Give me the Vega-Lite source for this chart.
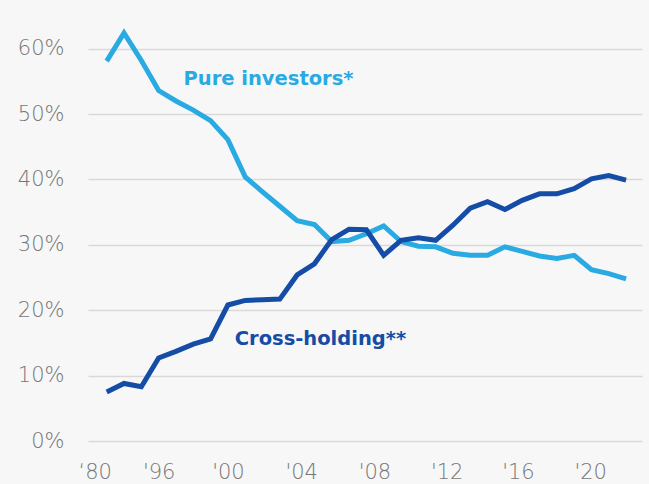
{
  "$schema": "https://vega.github.io/schema/vega-lite/v6.json",
  "autosize": "none",
  "width": 554,
  "height": 425,
  "padding": {"left": 88, "top": 16, "right": 7, "bottom": 43},
  "background": "#f7f7f7",
  "config": {
    "view": {"stroke": null},
    "axis": {"domain": false, "ticks": false, "labelFont": "DejaVu Sans", "labelColor": "#767676", "labelFontSize": 21, "labelFontWeight": 200}
  },
  "data": {"values": [
    {"year": 1980, "pure": 0.581, "cross": 0.075},
    {"year": 1994, "pure": 0.624, "cross": 0.088},
    {"year": 1995, "pure": 0.582, "cross": 0.083},
    {"year": 1996, "pure": 0.536, "cross": 0.127},
    {"year": 1997, "pure": 0.520, "cross": 0.137},
    {"year": 1998, "pure": 0.506, "cross": 0.148},
    {"year": 1999, "pure": 0.490, "cross": 0.156},
    {"year": 2000, "pure": 0.461, "cross": 0.208},
    {"year": 2001, "pure": 0.404, "cross": 0.215},
    {"year": 2002, "pure": 0.381, "cross": 0.216},
    {"year": 2003, "pure": 0.359, "cross": 0.217},
    {"year": 2004, "pure": 0.337, "cross": 0.254},
    {"year": 2005, "pure": 0.331, "cross": 0.271},
    {"year": 2006, "pure": 0.305, "cross": 0.308},
    {"year": 2007, "pure": 0.307, "cross": 0.324},
    {"year": 2008, "pure": 0.317, "cross": 0.323},
    {"year": 2009, "pure": 0.329, "cross": 0.284},
    {"year": 2010, "pure": 0.305, "cross": 0.307},
    {"year": 2011, "pure": 0.298, "cross": 0.311},
    {"year": 2012, "pure": 0.297, "cross": 0.307},
    {"year": 2013, "pure": 0.287, "cross": 0.330},
    {"year": 2014, "pure": 0.284, "cross": 0.356},
    {"year": 2015, "pure": 0.284, "cross": 0.366},
    {"year": 2016, "pure": 0.297, "cross": 0.354},
    {"year": 2017, "pure": 0.290, "cross": 0.368},
    {"year": 2018, "pure": 0.283, "cross": 0.378},
    {"year": 2019, "pure": 0.279, "cross": 0.378},
    {"year": 2020, "pure": 0.284, "cross": 0.386},
    {"year": 2021, "pure": 0.262, "cross": 0.401},
    {"year": 2022, "pure": 0.256, "cross": 0.406},
    {"year": 2023, "pure": 0.248, "cross": 0.399}
  ]},
  "encoding": {
    "x": {
      "field": "year", "type": "ordinal", "sort": "ascending",
      "scale": {"type": "point", "padding": 1.19, "align": 0.54},
      "axis": {
        "title": null, "grid": false, "labelAngle": 0, "labelPadding": 20,
        "values": [1980, 1996, 2000, 2004, 2008, 2012, 2016, 2020],
        "labelExpr": "datum.value == 1980 ? '‘80' : \"'\" + slice(toString(datum.value), 2)",
        "labelOffset": {
          "condition": [
            {"test": "datum.value == 1980", "value": -12},
            {"test": "datum.value == 2004", "value": 4},
            {"test": "datum.value == 2008", "value": 8},
            {"test": "datum.value == 2012", "value": 11},
            {"test": "datum.value == 2016", "value": 13},
            {"test": "datum.value == 2020", "value": 16}
          ],
          "value": 0
        }
      }
    }
  },
  "layer": [
    {
      "mark": {"type": "line", "color": "#29aae2", "strokeWidth": 5, "strokeJoin": "miter", "strokeCap": "butt"},
      "encoding": {
        "y": {
          "field": "pure", "type": "quantitative",
          "scale": {"domain": [0, 0.65], "nice": false, "zero": true},
          "axis": {"title": null, "values": [0, 0.1, 0.2, 0.3, 0.4, 0.5, 0.6], "format": ".0%", "labelPadding": 24, "gridColor": "#d9d9d9", "gridWidth": 1.5}
        }
      }
    },
    {
      "mark": {"type": "line", "color": "#144ca6", "strokeWidth": 5, "strokeJoin": "miter", "strokeCap": "butt"},
      "encoding": {
        "y": {"field": "cross", "type": "quantitative"}
      }
    },
    {
      "data": {"values": [
        {"year": 2002, "value": 0.5445, "label": "Pure investors*", "series": "pure"},
        {"year": 2005, "value": 0.1468, "label": "Cross-holding**", "series": "cross"}
      ]},
      "mark": {"type": "text", "font": "DejaVu Sans", "fontSize": 19.5, "fontWeight": "bold", "align": "center", "baseline": "alphabetic", "dx": 6},
      "encoding": {
        "y": {"field": "value", "type": "quantitative"},
        "text": {"field": "label"},
        "color": {"field": "series", "type": "nominal", "scale": {"domain": ["pure", "cross"], "range": ["#29aae2", "#144ca6"]}, "legend": null}
      }
    }
  ]
}
